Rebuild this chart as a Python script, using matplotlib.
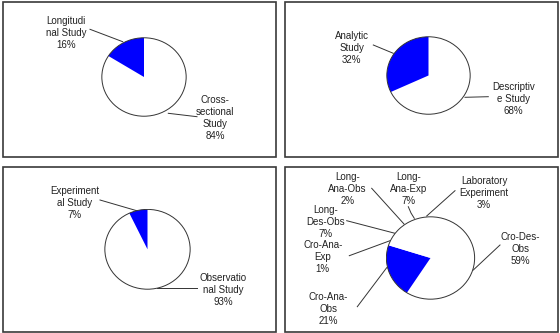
"""
Four pie charts of study designs, redrawn in the style of the old Excel figure.

Run via: python plot.py   ->  out.png
"""
import matplotlib
matplotlib.use('Agg')

import matplotlib.pyplot as plt
from matplotlib.patches import Rectangle, Circle

plt.rcParams['font.family'] = ['Liberation Sans', 'DejaVu Sans']

# slices in clockwise order from 12 o'clock (as Excel draws them)
names_time = ["Cross-\nsectional\nStudy", "Longitudi\nnal Study"]
pct_time = [84, 16]

names_aim = ["Descriptiv\ne Study", "Analytic\nStudy"]
pct_aim = [68, 32]

names_kind = ["Observatio\nnal Study", "Experiment\nal Study"]
pct_kind = [93, 7]

names_all = ["Cro-Des-\nObs", "Cro-Ana-\nObs", "Cro-Ana-\nExp", "Long-\nDes-Obs",
             "Long-\nAna-Obs", "Long-\nAna-Exp", "Laboratory\nExperiment"]
pct_all = [59, 21, 1, 7, 2, 7, 3]

# the one highlighted slice in each pie
blue_time = "Longitudi\nnal Study"
blue_aim = "Analytic\nStudy"
blue_kind = "Experiment\nal Study"
blue_all = "Cro-Ana-\nObs"

W, H = 560, 333
BLUE = '#0000ff'
DARK = '#333333'

fig = plt.figure(figsize=(W / 100, H / 100), dpi=100)
fig.patch.set_facecolor('white')

# overlay in pixel coordinates for boxes, labels and leader lines
ov = fig.add_axes([0, 0, 1, 1])
ov.set_xlim(0, W)
ov.set_ylim(H, 0)
ov.axis('off')

for x0, y0, x1, y1 in [(3, 2, 275.5, 156.5), (285, 2, 557.5, 156.5),
                       (3, 166.5, 275.5, 332), (285, 166.5, 557.5, 332)]:
    ov.add_patch(Rectangle((x0, y0), x1 - x0, y1 - y0, fill=False,
                           edgecolor='#3a3a3a', lw=1.2))


def draw_pie(values, names, blue, cx, cy, rx, ry):
    """Pie drawn into its own axes so it can be slightly elliptical."""
    pax = fig.add_axes([(cx - rx) / W, (H - cy - ry) / H, 2 * rx / W, 2 * ry / H])
    colors = [BLUE if n == blue else 'white' for n in names]
    pax.pie(values, colors=colors, startangle=90, counterclock=False,
            radius=1, wedgeprops=dict(linewidth=0))
    pax.add_patch(Circle((0, 0), 1, fill=False, edgecolor=DARK, lw=0.7))
    pax.set_aspect('auto')
    pax.set_xlim(-1.02, 1.02)
    pax.set_ylim(-1.02, 1.02)
    pax.axis('off')


def label(name, value, x, y, line):
    ov.text(x, y, f"{name}\n{value}%", ha='center', va='center',
            fontsize=7, color='#222222', linespacing=1.25)
    ov.plot(line[0], line[1], color=DARK, lw=0.7)


# top left
draw_pie(pct_time, names_time, blue_time, 144, 77, 43, 40)
label(names_time[1], pct_time[1], 65.8, 32.5, ([90, 122.7], [29.3, 41.7]))
label(names_time[0], pct_time[0], 215, 117.7, ([168.3, 197], [113.3, 116.7]))

# top right
draw_pie(pct_aim, names_aim, blue_aim, 428.5, 75.5, 42.5, 39.5)
label(names_aim[1], pct_aim[1], 351.7, 48, ([373.3, 393.3], [45, 53.3]))
label(names_aim[0], pct_aim[0], 513.3, 99.3, ([465, 488.3], [97.3, 96.7]))

# bottom left
draw_pie(pct_kind, names_kind, blue_kind, 147.5, 249.3, 43.5, 40.7)
label(names_kind[1], pct_kind[1], 75, 202.7, ([100, 136.7], [200, 210.7]))
label(names_kind[0], pct_kind[0], 223.3, 290.3, ([156.7, 196.7], [288.3, 288.3]))

# bottom right
draw_pie(pct_all, names_all, blue_all, 430.5, 258, 45, 42)
spots = [
    (520.7, 249.3, ([500, 473.3], [245, 270])),
    (328.3, 308.7, ([357.3, 386.7], [306.7, 267.7])),
    (322.7, 256.5, ([349.3, 390], [255.7, 240.7])),
    (325.7, 221.7, ([346.7, 395], [220.7, 233.3])),
    (347.7, 189, ([371.7, 404], [188.3, 224])),
    (408.3, 189, ([408.3, 411, 414.3], [206.7, 213, 218.3])),
    (484, 192.6, ([455, 426.7], [190.7, 216])),
]
for name, value, (x, y, line) in zip(names_all, pct_all, spots):
    label(name, value, x, y, line)

fig.savefig('out.png', dpi=100, facecolor='white')
